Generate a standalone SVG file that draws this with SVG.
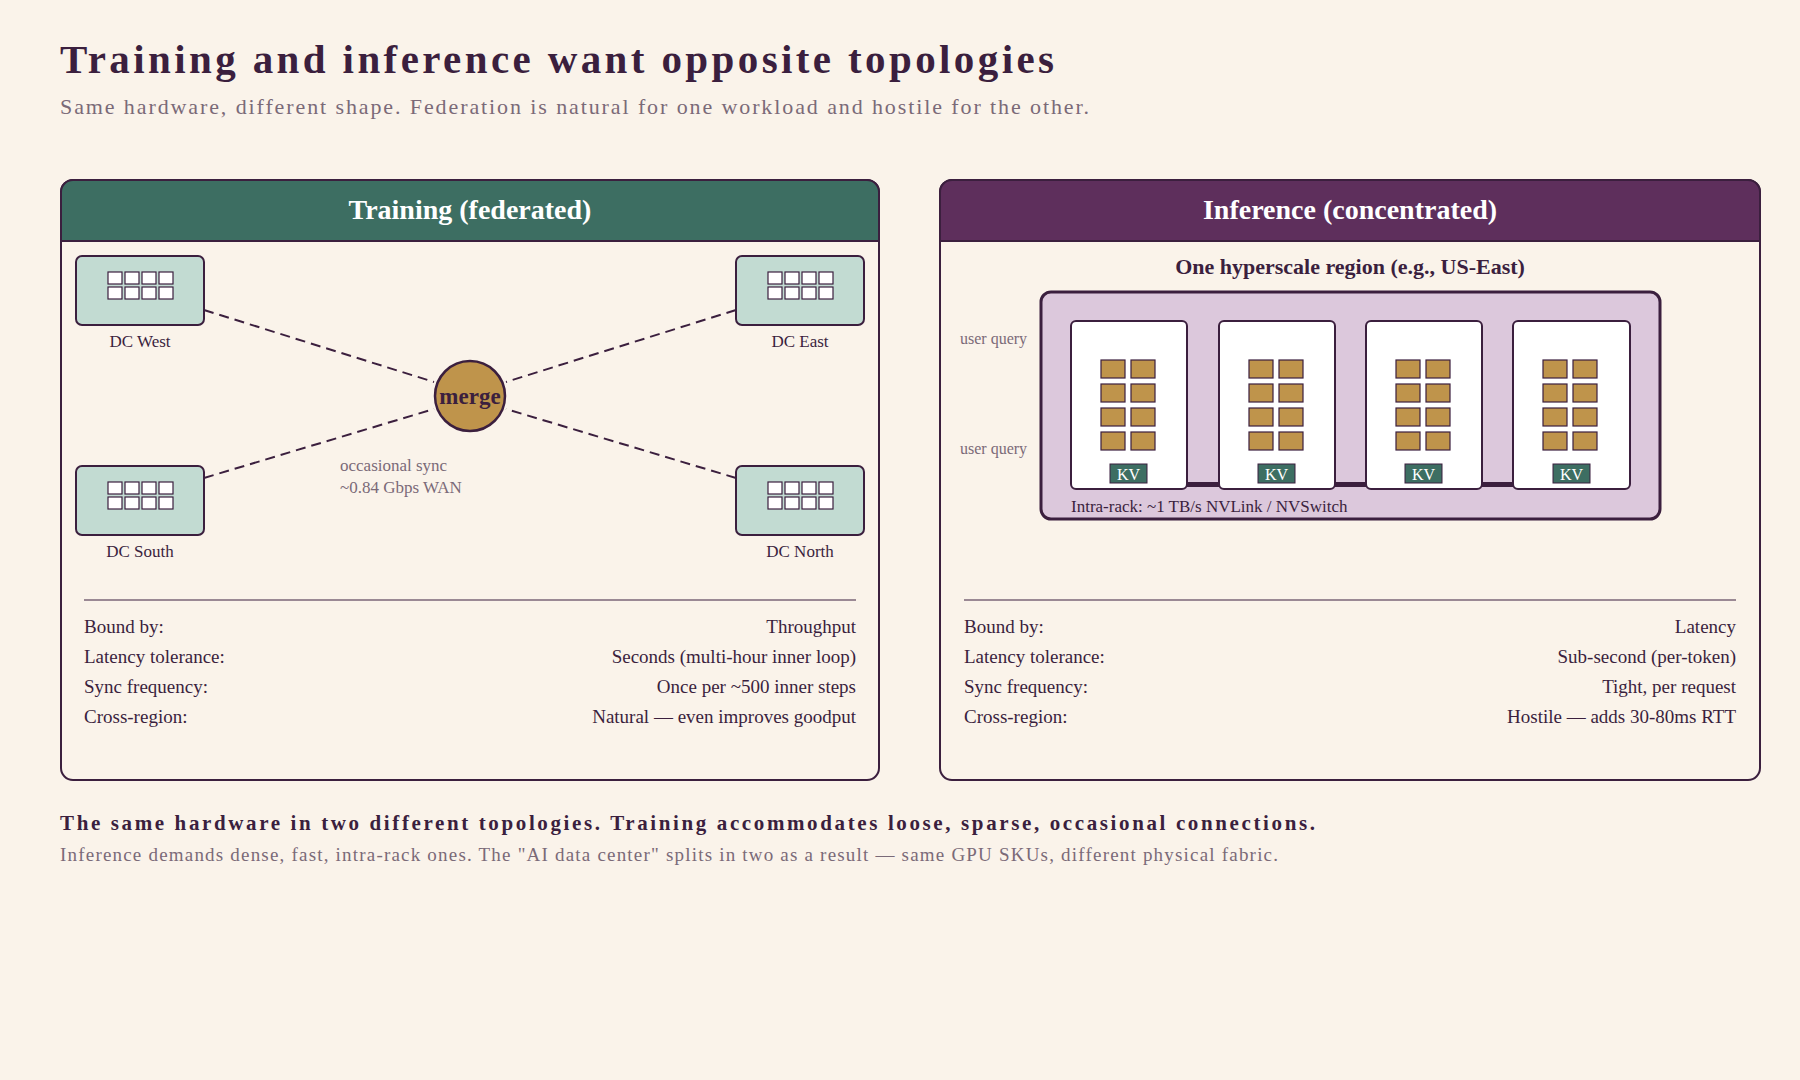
<svg xmlns="http://www.w3.org/2000/svg" width="1800" height="1080" viewBox="0 0 1800 1080">
<defs>
<style>
text{font-family:"Liberation Serif","DejaVu Serif",serif;fill:#3b1f3e}
.b{font-weight:bold}
.g{fill:#7a6a78}
.dc{fill:#c2dbd2;stroke:#3b1f3e;stroke-width:2}
.cell{fill:#fff;stroke:#3b1f3e;stroke-width:1.2}
.gpu{fill:#bf944b;stroke:#3b1f3e;stroke-width:1.2}
.rack{fill:#fff;stroke:#3b1f3e;stroke-width:2}
.row{font-size:19px}
.dash{stroke:#3b1f3e;stroke-width:2;stroke-dasharray:10 6;fill:none}
</style>
<marker id="ah" viewBox="0 0 10 10" refX="9" refY="5" markerWidth="5" markerHeight="5" orient="auto"><path d="M0,0L10,5L0,10z" fill="#8a6a30"/></marker>
<g id="grid"><rect class="cell" x="0" y="0" width="14" height="12"/><rect class="cell" x="17" y="0" width="14" height="12"/><rect class="cell" x="34" y="0" width="14" height="12"/><rect class="cell" x="51" y="0" width="14" height="12"/><rect class="cell" x="0" y="15" width="14" height="12"/><rect class="cell" x="17" y="15" width="14" height="12"/><rect class="cell" x="34" y="15" width="14" height="12"/><rect class="cell" x="51" y="15" width="14" height="12"/></g>
<g id="gpus"><rect class="gpu" x="0" y="0" width="24" height="18"/><rect class="gpu" x="30" y="0" width="24" height="18"/><rect class="gpu" x="0" y="24" width="24" height="18"/><rect class="gpu" x="30" y="24" width="24" height="18"/><rect class="gpu" x="0" y="48" width="24" height="18"/><rect class="gpu" x="30" y="48" width="24" height="18"/><rect class="gpu" x="0" y="72" width="24" height="18"/><rect class="gpu" x="30" y="72" width="24" height="18"/></g>
</defs>
<rect width="1800" height="1080" fill="#faf3ea"/>
<text class="b" x="60" y="73" font-size="41" textLength="994">Training and inference want opposite topologies</text>
<text class="g" x="60" y="114" font-size="22" textLength="1029">Same hardware, different shape. Federation is natural for one workload and hostile for the other.</text>

<g id="training-panel">
<rect x="61" y="180" width="818" height="600" rx="12" fill="#faf3ea" stroke="#3b1f3e" stroke-width="2"/>
<path d="M61,241V192a12,12 0 0 1 12,-12H867a12,12 0 0 1 12,12V241z" fill="#3d6e62" stroke="#3b1f3e" stroke-width="2"/>
<text class="b" x="470" y="219" font-size="28" text-anchor="middle" style="fill:#fff">Training  (federated)</text>
</g>
<g id="connectors">
<line class="dash" x1="204" y1="310" x2="434" y2="382"/>
<line class="dash" x1="736" y1="310" x2="506" y2="382"/>
<line class="dash" x1="204" y1="478" x2="434" y2="409"/>
<line class="dash" x1="736" y1="478" x2="506" y2="409"/>
<line x1="960" y1="350" x2="1038" y2="350" stroke="#8a6a30" stroke-width="3" marker-end="url(#ah)"/>
<line x1="960" y1="460" x2="1038" y2="460" stroke="#8a6a30" stroke-width="3" marker-end="url(#ah)"/>
</g>
<g id="dc-west"><rect class="dc" x="76" y="256" width="128" height="69" rx="6"/><use href="#grid" x="108" y="272"/><text x="140" y="347" font-size="17" text-anchor="middle">DC West</text></g>
<g id="dc-east"><rect class="dc" x="736" y="256" width="128" height="69" rx="6"/><use href="#grid" x="768" y="272"/><text x="800" y="347" font-size="17" text-anchor="middle">DC East</text></g>
<g id="dc-south"><rect class="dc" x="76" y="466" width="128" height="69" rx="6"/><use href="#grid" x="108" y="482"/><text x="140" y="557" font-size="17" text-anchor="middle">DC South</text></g>
<g id="dc-north"><rect class="dc" x="736" y="466" width="128" height="69" rx="6"/><use href="#grid" x="768" y="482"/><text x="800" y="557" font-size="17" text-anchor="middle">DC North</text></g>
<g id="merge"><ellipse cx="470" cy="396" rx="35" ry="35" fill="#bf944b" stroke="#3b1f3e" stroke-width="2.5"/><text class="b" x="470" y="404" font-size="23" text-anchor="middle">merge</text></g>
<g id="sync-label"><text class="g" x="340" y="471" font-size="17">occasional sync</text><text class="g" x="340" y="493" font-size="17">~0.84 Gbps WAN</text></g>
<g id="training-table">
<line x1="84" y1="600" x2="856" y2="600" stroke="#3b1f3e" stroke-width="1"/>
<text class="row" x="84" y="633">Bound by:</text><text class="row" x="856" y="633" text-anchor="end">Throughput</text>
<text class="row" x="84" y="663">Latency tolerance:</text><text class="row" x="856" y="663" text-anchor="end">Seconds (multi-hour inner loop)</text>
<text class="row" x="84" y="693">Sync frequency:</text><text class="row" x="856" y="693" text-anchor="end">Once per ~500 inner steps</text>
<text class="row" x="84" y="723">Cross-region:</text><text class="row" x="856" y="723" text-anchor="end">Natural — even improves goodput</text>
</g>

<g id="inference-panel">
<rect x="940" y="180" width="820" height="600" rx="12" fill="#faf3ea" stroke="#3b1f3e" stroke-width="2"/>
<path d="M940,241V192a12,12 0 0 1 12,-12H1748a12,12 0 0 1 12,12V241z" fill="#5e2f5c" stroke="#3b1f3e" stroke-width="2"/>
<text class="b" x="1350" y="219" font-size="28" text-anchor="middle" style="fill:#fff">Inference  (concentrated)</text>
<text class="b" x="1350" y="274" font-size="22" text-anchor="middle">One hyperscale region (e.g., US-East)</text>
</g>
<g id="region">
<rect x="1041" y="292" width="619" height="227" rx="10" fill="#dcc8dc" stroke="#3b1f3e" stroke-width="3"/>
<rect x="1100" y="482" width="470" height="5" fill="#3b1f3e"/>
<text x="1071" y="512" font-size="17">Intra-rack: ~1 TB/s NVLink / NVSwitch</text>
</g>
<g id="rack-1"><rect class="rack" x="1071" y="321" width="116" height="168" rx="5"/><use href="#gpus" x="1101" y="360"/><rect x="1110" y="464" width="37" height="19" fill="#3d6e62" stroke="#3b1f3e"/><text x="1128.5" y="480" font-size="16" text-anchor="middle" style="fill:#fff">KV</text></g>
<g id="rack-2"><rect class="rack" x="1219" y="321" width="116" height="168" rx="5"/><use href="#gpus" x="1249" y="360"/><rect x="1258" y="464" width="37" height="19" fill="#3d6e62" stroke="#3b1f3e"/><text x="1276.5" y="480" font-size="16" text-anchor="middle" style="fill:#fff">KV</text></g>
<g id="rack-3"><rect class="rack" x="1366" y="321" width="116" height="168" rx="5"/><use href="#gpus" x="1396" y="360"/><rect x="1405" y="464" width="37" height="19" fill="#3d6e62" stroke="#3b1f3e"/><text x="1423.5" y="480" font-size="16" text-anchor="middle" style="fill:#fff">KV</text></g>
<g id="rack-4"><rect class="rack" x="1513" y="321" width="117" height="168" rx="5"/><use href="#gpus" x="1543" y="360"/><rect x="1553" y="464" width="37" height="19" fill="#3d6e62" stroke="#3b1f3e"/><text x="1571.5" y="480" font-size="16" text-anchor="middle" style="fill:#fff">KV</text></g>
<g id="user-queries"><text class="g" x="960" y="344" font-size="16">user query</text><text class="g" x="960" y="454" font-size="16">user query</text></g>
<g id="inference-table">
<line x1="964" y1="600" x2="1736" y2="600" stroke="#3b1f3e" stroke-width="1"/>
<text class="row" x="964" y="633">Bound by:</text><text class="row" x="1736" y="633" text-anchor="end">Latency</text>
<text class="row" x="964" y="663">Latency tolerance:</text><text class="row" x="1736" y="663" text-anchor="end">Sub-second (per-token)</text>
<text class="row" x="964" y="693">Sync frequency:</text><text class="row" x="1736" y="693" text-anchor="end">Tight, per request</text>
<text class="row" x="964" y="723">Cross-region:</text><text class="row" x="1736" y="723" text-anchor="end">Hostile — adds 30-80ms RTT</text>
</g>
<g id="caption">
<text class="b" x="60" y="830" font-size="21" textLength="1255">The same hardware in two different topologies. Training accommodates loose, sparse, occasional connections.</text>
<text class="g" x="60" y="861" font-size="19" textLength="1218">Inference demands dense, fast, intra-rack ones. The "AI data center" splits in two as a result — same GPU SKUs, different physical fabric.</text>
</g>
</svg>
